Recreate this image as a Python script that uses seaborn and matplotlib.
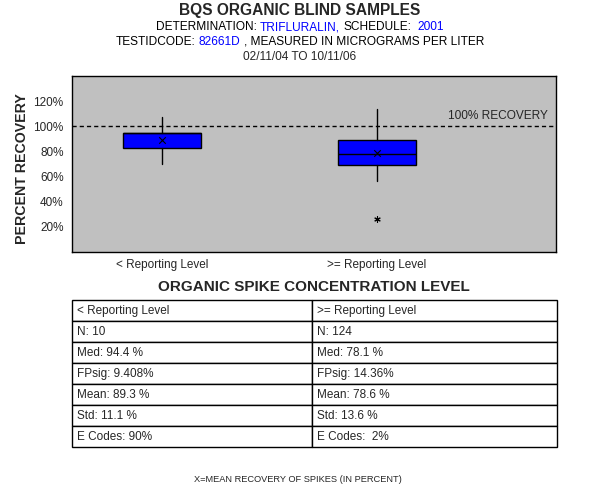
import matplotlib
matplotlib.use("Agg")
import matplotlib.pyplot as plt
import seaborn as sns
import pandas as pd

# ---------------- data ----------------
categories = ["< Reporting Level", ">= Reporting Level"]
whisker_low = [70.2, 56.5]
q1_values = [82.4, 68.9]
median_values = [94.4, 78.1]
q3_values = [94.7, 89.0]
whisker_high = [107.5, 113.9]
mean_values = [89.3, 78.6]
outlier_values = [[], [26.6]]

y_ticks = [20, 40, 60, 80, 100, 120]
y_tick_labels = ["20%", "40%", "60%", "80%", "100%", "120%"]

table_header = ["< Reporting Level", ">= Reporting Level"]
n_labels = ["N: 10", "N: 124"]
med_labels = ["Med: 94.4 %", "Med: 78.1 %"]
fpsig_labels = ["FPsig: 9.408%", "FPsig: 14.36%"]
mean_labels = ["Mean: 89.3 %", "Mean: 78.6 %"]
std_labels = ["Std: 11.1 %", "Std: 13.6 %"]
ecode_labels = ["E Codes: 90%", "E Codes:  2%"]

title = "BQS ORGANIC BLIND SAMPLES"
line2 = [("DETERMINATION:", "black"), ("TRIFLURALIN,", "#0000FF"),
         ("SCHEDULE:", "black"), ("2001", "#0000FF")]
line2_gaps = [1, 1, 2]
line3 = [("TESTIDCODE:", "black"), ("82661D", "#0000FF"),
         (", MEASURED IN MICROGRAMS PER LITER", "black")]
line3_gaps = [1, 1]
date_line = "02/11/04 TO 10/11/06"
y_label = "PERCENT RECOVERY"
x_title = "ORGANIC SPIKE CONCENTRATION LEVEL"
footnote = "X=MEAN RECOVERY OF SPIKES (IN PERCENT)"
ref_label = "100% RECOVERY"

# ---------------- style ----------------
sns.set_style("white")
plt.rcParams["font.family"] = ["Liberation Sans", "DejaVu Sans"]

W, H = 600, 500
fig = plt.figure(figsize=(6, 5), dpi=100)
fig.patch.set_facecolor("white")

def fx(px):
    return px / W

def fy(py):
    return 1 - py / H

ax = fig.add_axes([fx(72), fy(252), 484 / W, 176 / H])
ax.set_facecolor("#C0C0C0")

positions = list(range(len(categories)))
stats = []
for i in positions:
    stats.append(dict(whislo=whisker_low[i], q1=q1_values[i], med=median_values[i],
                      q3=q3_values[i], whishi=whisker_high[i], fliers=[]))
ax.bxp(stats, positions=positions, widths=0.36, patch_artist=True,
       showcaps=False, showfliers=False,
       boxprops=dict(facecolor="#0000FF", edgecolor="black", linewidth=1),
       medianprops=dict(color="black", linewidth=1),
       whiskerprops=dict(color="black", linewidth=1))

mean_df = pd.DataFrame({"pos": positions, "mean": mean_values})
sns.scatterplot(data=mean_df, x="pos", y="mean", marker="x", color="black",
                s=22, linewidth=0.8, ax=ax, zorder=5, legend=False)

out_pos, out_val = [], []
for i, vals in enumerate(outlier_values):
    for v in vals:
        out_pos.append(i)
        out_val.append(v)
out_df = pd.DataFrame({"pos": out_pos, "val": out_val})
sns.scatterplot(data=out_df, x="pos", y="val", marker=(6, 2, 0), color="black",
                s=16, linewidth=0.8, edgecolor="black", ax=ax, zorder=5, legend=False)

ax.axhline(100, color="black", linewidth=1, linestyle=(0, (3, 2.2)), zorder=3)
ax.text(1.795, 105.7, ref_label, ha="right", va="baseline", fontsize=8.6)

ax.set_xlim(-0.419, 1.833)
ax.set_ylim(0, 140)
ax.set_xticks(positions)
ax.set_xticklabels(categories, fontsize=8.5)
ax.set_yticks(y_ticks)
ax.set_yticklabels(y_tick_labels, fontsize=8.5)
ax.tick_params(axis="x", direction="in", length=5, width=1, color="black", pad=5)
ax.tick_params(axis="y", direction="in", length=5, width=1, color="black", pad=6)
ax.set_xlabel("")
ax.set_ylabel("")
for s in ax.spines.values():
    s.set_visible(True)
    s.set_color("black")
    s.set_linewidth(1)

# ---------------- titles ----------------
fig.text(fx(300), fy(10.5), title, ha="center", va="center", fontsize=11.2,
         fontweight="bold")

renderer = fig.canvas.get_renderer()

def measure(t):
    return t.get_window_extent(renderer).width

def colored_line(pieces, gaps, ypx, size):
    probe = fig.text(0, 0, "x x", fontsize=size)
    probe2 = fig.text(0, 0, "xx", fontsize=size)
    space = measure(probe) - measure(probe2)
    probe.remove()
    probe2.remove()
    texts = [fig.text(0, fy(ypx), s, color=c, fontsize=size, ha="left", va="center")
             for s, c in pieces]
    widths = [measure(t) for t in texts]
    total = sum(widths) + space * sum(gaps)
    x = 300 - total / 2
    for i, (t, w) in enumerate(zip(texts, widths)):
        t.set_x(fx(x))
        x += w
        if i < len(gaps):
            x += space * gaps[i]

colored_line(line2, line2_gaps, 27, 8.6)
colored_line(line3, line3_gaps, 42, 8.6)
fig.text(fx(300), fy(57), date_line, ha="center", va="center", fontsize=8.6)

fig.text(fx(22), fy(169), y_label, rotation=90, ha="center", va="center",
         fontsize=10.2, fontweight="bold")
fig.text(fx(314), fy(287), x_title, ha="center", va="center", fontsize=11,
         fontweight="bold")
fig.text(fx(298), fy(479.5), footnote, ha="center", va="center", fontsize=6.7)

# ---------------- table ----------------
tax = fig.add_axes([fx(72), fy(447.3), 484.7 / W, 147 / H])
tax.axis("off")
rows = [table_header, n_labels, med_labels, fpsig_labels, mean_labels,
        std_labels, ecode_labels]
tbl = tax.table(cellText=rows, cellLoc="left", bbox=[0, 0, 1, 1],
                colWidths=[240 / 484.7, 244.7 / 484.7])
tbl.auto_set_font_size(False)
tbl.set_fontsize(8.5)
for (r, c), cell in tbl.get_celld().items():
    cell.set_edgecolor("black")
    cell.set_linewidth(1)
    cell.set_facecolor("white")
    cell.PAD = 5 / 240

fig.savefig("out.png", dpi=100)
